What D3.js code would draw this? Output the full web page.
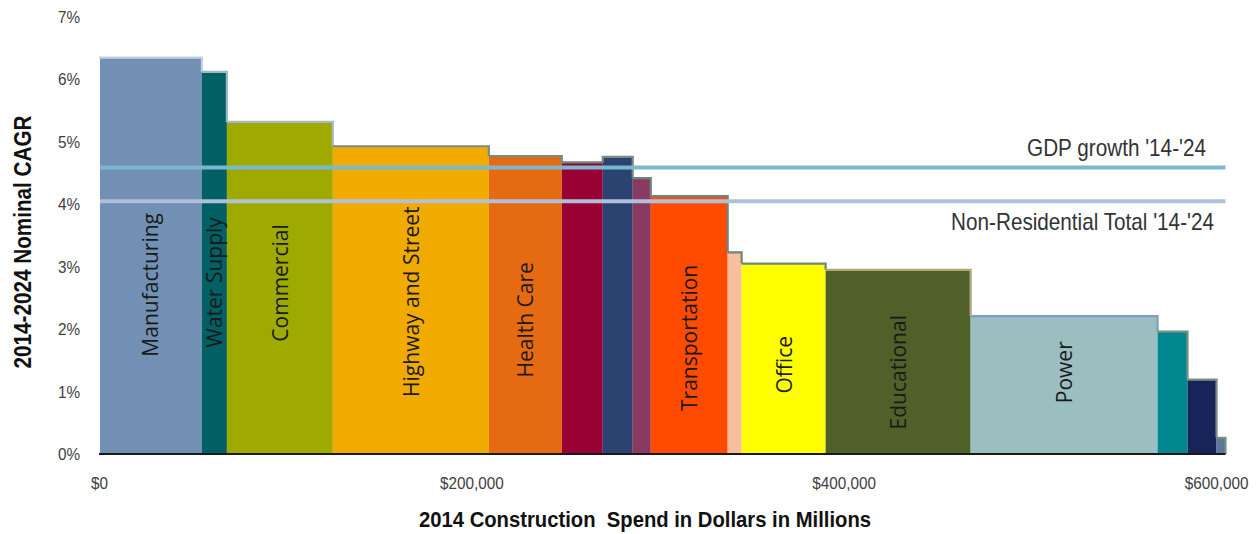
<!DOCTYPE html>
<html>
<head>
<meta charset="utf-8">
<script src="https://cdn.jsdelivr.net/npm/d3@7"></script>
<style>
  html, body { margin: 0; padding: 0; background: #fff; }
  svg { display: block; }
</style>
</head>
<body>
<svg id="chart" width="1257" height="534"></svg>
<script>
// Non-residential construction segments: 2014 spend ($M) and 2014-2024 nominal CAGR (%)
const segments = ["Manufacturing", "Water Supply", "Commercial", "Highway and Street", "Health Care",
  "Segment 6", "Segment 7", "Segment 8", "Transportation", "Segment 10", "Office", "Educational",
  "Power", "Segment 14", "Segment 15", "Segment 16"];
const labels = ["Manufacturing", "Water Supply", "Commercial", "Highway and Street", "Health Care",
  "", "", "", "Transportation", "", "Office", "Educational", "Power", "", "", ""];
const spend = [55300, 13400, 56900, 83800, 39200, 22000, 16100, 9700, 41300, 7500, 45100, 77900, 100400, 16100, 15600, 4800];
const cagr = [6.35, 6.12, 5.32, 4.93, 4.77, 4.67, 4.76, 4.42, 4.13, 3.23, 3.05, 2.95, 2.21, 1.96, 1.19, 0.26];

// Benchmarks
const benchmarkNames = ["GDP growth '14-'24", "Non-Residential Total '14-'24"];
const benchmarkValues = [4.59, 4.05];

// Axis ticks
const xTicks = [0, 200000, 400000, 600000];
const yTicks = [0, 1, 2, 3, 4, 5, 6, 7];

// Styling
const fills = ["#7190b3", "#006063", "#9faa00", "#f1aa00", "#e66a12", "#990033", "#2b4371", "#8a3a62",
  "#ff4b00", "#f7bf9d", "#ffff00", "#4f6128", "#9bbfc0", "#00878f", "#17245a", "#5d7896"];
const outlines = ["#c2d0e2", "#9db8c8", "#a9bac6", "#7a8b80", "#7a8b80", "#6f8580", "#7a8b80", "#6f8580",
  "#6f8580", "#6f8580", "#6f8580", "#b4a57a", "#7f9cc3", "#7a9080", "#7a9080", "#7a9080"];
const benchmarkColors = ["#7ab8cf", "#b1c0d9"];
// Where each rotated label is centred, in CAGR units
const labelAt = [2.71, 2.75, 2.74, 2.44, 2.15, 0, 0, 0, 1.86, 0, 1.43, 1.31, 1.31, 0, 0, 0];

const NARROW = "'Liberation Sans', Arial, sans-serif";
const SQUEEZE = "scale(0.9,1)";

const svg = d3.select("#chart");
const x = d3.scaleLinear().domain([0, 600000]).range([99, 1216]);
const y = d3.scaleLinear().domain([0, 7]).range([454, 17]);

// cumulative start of each segment
const starts = d3.cumsum([0, ...spend.slice(0, -1)]);
const rows = spend.map((s, i) => ({ name: segments[i], label: labels[i], x0: starts[i], x1: starts[i] + s, v: cagr[i], i }));
const plotLeft = x(0) + 1, plotRight = x(d3.sum(spend));

// filled bars
svg.append("g").selectAll("rect").data(rows).join("rect")
  .attr("x", d => x(d.x0) + (d.i === 0 ? 1 : 0))
  .attr("width", d => x(d.x1) - x(d.x0) - (d.i === 0 ? 1 : 0))
  .attr("y", d => y(d.v))
  .attr("height", d => y(0) - y(d.v))
  .attr("fill", (d, i) => fills[i]);

// step outline along the tops
svg.append("g").attr("fill", "none").attr("stroke-width", 2.2).attr("stroke-linejoin", "miter")
  .selectAll("path").data(rows).join("path")
  .attr("stroke", (d, i) => outlines[i])
  .attr("d", (d, i) => {
    const p = d3.path();
    const prev = i > 0 ? cagr[i - 1] : null;
    const next = i < cagr.length - 1 ? cagr[i + 1] : 0;
    if (prev !== null && d.v > prev) { p.moveTo(x(d.x0), y(prev)); p.lineTo(x(d.x0), y(d.v)); }
    else p.moveTo(x(d.x0), y(d.v));
    p.lineTo(x(d.x1), y(d.v));
    if (next < d.v) p.lineTo(x(d.x1), y(next));
    return p.toString();
  });

// baseline
svg.append("line").attr("x1", plotLeft - 1).attr("x2", plotRight).attr("y1", y(0)).attr("y2", y(0))
  .attr("stroke", "#1a1a1a").attr("stroke-width", 2);

// benchmark lines
svg.append("g").selectAll("line").data(benchmarkValues).join("line")
  .attr("x1", plotLeft).attr("x2", plotRight)
  .attr("y1", d => y(d)).attr("y2", d => y(d))
  .attr("stroke", (d, i) => benchmarkColors[i]).attr("stroke-width", 4);

// benchmark captions
svg.append("g").selectAll("g").data(benchmarkValues).join("g")
  .attr("transform", (d, i) => `translate(${i === 0 ? 1206 : 1214},${i === 0 ? y(d) - 11 : y(d) + 29})`)
  .append("text")
  .attr("transform", SQUEEZE)
  .attr("font-family", NARROW).attr("font-size", 23).attr("fill", "#333")
  .attr("text-anchor", "end")
  .text((d, i) => benchmarkNames[i]);

// rotated segment labels
svg.append("g").attr("font-family", "'Open Sans', 'Noto Sans', sans-serif").attr("font-size", 21).attr("fill", "#1a1a1a")
  .selectAll("text").data(rows.filter(d => d.label)).join("text")
  .attr("text-anchor", "middle").attr("dominant-baseline", "central")
  .attr("transform", d => `translate(${(x(d.x0) + x(d.x1)) / 2},${y(labelAt[d.i])}) rotate(-90)`)
  .text(d => d.label);

// y axis
const yAxis = svg.append("g").attr("transform", "translate(80,0)")
  .call(d3.axisLeft(y).tickValues(yTicks).tickFormat(d => d + "%").tickSize(0).tickPadding(0));
yAxis.select(".domain").remove();
yAxis.selectAll("text").attr("transform", SQUEEZE)
  .attr("font-family", NARROW).attr("font-size", 17).attr("fill", "#404040");
yAxis.attr("font-family", null);

// x axis
const xAxis = svg.append("g").attr("transform", `translate(0,${y(0) + 23})`)
  .call(d3.axisBottom(x).tickValues(xTicks).tickFormat(d => "$" + d3.format(",")(d)).tickSize(0).tickPadding(0));
xAxis.select(".domain").remove();
xAxis.selectAll("text").attr("transform", SQUEEZE)
  .attr("font-family", NARROW).attr("font-size", 17).attr("fill", "#404040");
xAxis.attr("font-family", null);

// axis titles
svg.append("g").attr("transform", "translate(645,527)")
  .append("text").attr("transform", SQUEEZE)
  .attr("font-family", NARROW).attr("font-weight", "bold").attr("font-size", 22.5).attr("fill", "#111")
  .attr("text-anchor", "middle").style("white-space", "pre")
  .text("2014 Construction  Spend in Dollars in Millions");
svg.append("g").attr("transform", "translate(31,242) rotate(-90)")
  .append("text").attr("transform", SQUEEZE)
  .attr("font-family", NARROW).attr("font-weight", "bold").attr("font-size", 23).attr("fill", "#111")
  .attr("text-anchor", "middle")
  .text("2014-2024 Nominal CAGR");
</script>
</body>
</html>
